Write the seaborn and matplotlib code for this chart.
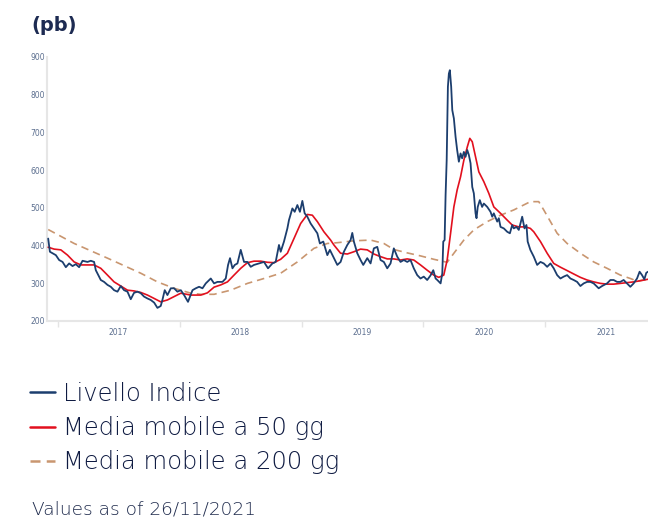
import numpy as np
import pandas as pd
import matplotlib
matplotlib.use("Agg")
import matplotlib.pyplot as plt
import matplotlib.dates as mdates
from matplotlib.lines import Line2D
import seaborn as sns

# ---- data (dates as decimal years, spreads in basis points) ----
index_t = [2016.918, 2016.932, 2016.981, 2017.008, 2017.036, 2017.063, 2017.090, 2017.118,
           2017.145, 2017.172, 2017.200, 2017.241, 2017.268, 2017.295, 2017.309, 2017.350,
           2017.377, 2017.405, 2017.432, 2017.459, 2017.487, 2017.514, 2017.541, 2017.569,
           2017.596, 2017.623, 2017.651, 2017.678, 2017.705, 2017.733, 2017.760, 2017.788,
           2017.815, 2017.842, 2017.856, 2017.875, 2017.897, 2017.925, 2017.952, 2017.979,
           2018.007, 2018.034, 2018.066, 2018.103, 2018.130, 2018.157, 2018.185, 2018.212,
           2018.253, 2018.280, 2018.308, 2018.349, 2018.376, 2018.395, 2018.411, 2018.431,
           2018.450, 2018.472, 2018.499, 2018.526, 2018.554, 2018.581, 2018.608, 2018.649,
           2018.690, 2018.723, 2018.759, 2018.786, 2018.813, 2018.827, 2018.854, 2018.882,
           2018.895, 2018.923, 2018.942, 2018.964, 2018.985, 2019.005, 2019.024, 2019.046,
           2019.073, 2019.100, 2019.128, 2019.149, 2019.177, 2019.210, 2019.231, 2019.264,
           2019.292, 2019.319, 2019.346, 2019.374, 2019.401, 2019.415, 2019.428, 2019.456,
           2019.483, 2019.505, 2019.538, 2019.565, 2019.592, 2019.620, 2019.647, 2019.674,
           2019.702, 2019.729, 2019.756, 2019.784, 2019.811, 2019.838, 2019.866, 2019.893,
           2019.920, 2019.948, 2019.975, 2020.002, 2020.030, 2020.057, 2020.080, 2020.099,
           2020.113, 2020.140, 2020.154, 2020.162, 2020.173, 2020.181, 2020.190, 2020.200,
           2020.208, 2020.216, 2020.227, 2020.236, 2020.249, 2020.263, 2020.276, 2020.290,
           2020.304, 2020.317, 2020.331, 2020.345, 2020.359, 2020.372, 2020.386, 2020.400,
           2020.413, 2020.427, 2020.435, 2020.445, 2020.462, 2020.481, 2020.495, 2020.523,
           2020.550, 2020.564, 2020.577, 2020.605, 2020.618, 2020.632, 2020.659, 2020.687,
           2020.709, 2020.728, 2020.741, 2020.763, 2020.782, 2020.810, 2020.829, 2020.845,
           2020.855, 2020.877, 2020.905, 2020.933, 2020.960, 2020.987, 2021.015, 2021.042,
           2021.069, 2021.097, 2021.124, 2021.151, 2021.179, 2021.206, 2021.233, 2021.261,
           2021.288, 2021.315, 2021.343, 2021.370, 2021.397, 2021.438, 2021.466, 2021.507,
           2021.534, 2021.561, 2021.589, 2021.616, 2021.643, 2021.671, 2021.698, 2021.725,
           2021.753, 2021.774, 2021.794, 2021.813, 2021.829, 2021.843]
index_v = [418, 383, 374, 361, 356, 342, 352, 345,
           350, 342, 359, 356, 359, 356, 334, 308,
           303, 295, 290, 281, 277, 292, 281, 277,
           257, 274, 277, 273, 264, 259, 255, 248,
           234, 239, 255, 281, 268, 286, 286, 277,
           281, 268, 250, 281, 286, 290, 286, 299,
           312, 299, 303, 303, 312, 348, 366, 339,
           348, 352, 388, 356, 356, 343, 348, 352,
           356, 339, 352, 356, 401, 383, 410, 445,
           467, 498, 489, 507, 489, 518, 485, 476,
           458, 445, 432, 405, 410, 374, 388, 366,
           348, 356, 383, 401, 414, 433, 410, 379,
           361, 348, 366, 352, 392, 396, 361, 356,
           339, 352, 392, 370, 356, 361, 356, 361,
           339, 321, 312, 317, 308, 320, 334, 312,
           308, 299, 326, 410, 414, 533, 626, 821,
           856, 865, 821, 759, 737, 688, 653, 622,
           644, 631, 648, 635, 653, 640, 618, 555,
           538, 485, 472, 502, 520, 502, 511, 502,
           489, 476, 485, 463, 472, 449, 445, 436,
           432, 454, 445, 449, 441, 476, 445, 454,
           410, 388, 370, 348, 356, 352, 343, 352,
           339, 321, 312, 317, 321, 312, 308, 303,
           292, 299, 303, 303, 299, 286, 292, 299,
           308, 308, 303, 303, 308, 299, 290, 299,
           312, 330, 321, 310, 327, 330]

ma50_t = [2016.918, 2016.967, 2017.022, 2017.077, 2017.131, 2017.186, 2017.241, 2017.295,
          2017.350, 2017.405, 2017.459, 2017.514, 2017.569, 2017.623, 2017.678, 2017.733,
          2017.788, 2017.842, 2017.897, 2017.952, 2018.007, 2018.089, 2018.171, 2018.226,
          2018.280, 2018.335, 2018.390, 2018.444, 2018.499, 2018.554, 2018.608, 2018.663,
          2018.718, 2018.772, 2018.827, 2018.882, 2018.936, 2018.991, 2019.046, 2019.087,
          2019.128, 2019.182, 2019.237, 2019.264, 2019.319, 2019.374, 2019.428, 2019.483,
          2019.538, 2019.592, 2019.647, 2019.702, 2019.756, 2019.811, 2019.866, 2019.920,
          2019.975, 2020.030, 2020.084, 2020.125, 2020.166, 2020.194, 2020.222, 2020.249,
          2020.276, 2020.304, 2020.331, 2020.359, 2020.380, 2020.400, 2020.427, 2020.454,
          2020.495, 2020.536, 2020.577, 2020.632, 2020.687, 2020.728, 2020.782, 2020.837,
          2020.877, 2020.905, 2020.960, 2021.015, 2021.069, 2021.124, 2021.179, 2021.233,
          2021.288, 2021.343, 2021.397, 2021.452, 2021.507, 2021.561, 2021.616, 2021.671,
          2021.725, 2021.780, 2021.843]
ma50_v = [395, 390, 388, 374, 356, 348, 348, 348,
          339, 321, 303, 292, 281, 279, 275, 268,
          259, 250, 255, 264, 273, 268, 268, 274,
          289, 295, 303, 321, 339, 354, 358, 358,
          355, 354, 363, 379, 418, 458, 482, 480,
          463, 436, 414, 401, 379, 377, 383, 390,
          388, 377, 370, 364, 364, 361, 364, 361,
          348, 334, 321, 315, 321, 361, 432, 502,
          547, 582, 626, 661, 684, 675, 635, 595,
          569, 538, 502, 485, 467, 454, 449, 449,
          445, 436, 410, 379, 352, 342, 333, 324,
          315, 308, 303, 299, 297, 297, 299, 301,
          303, 306, 310]

ma200_t = [2016.918, 2017.131, 2017.405, 2017.678, 2017.815, 2017.952, 2018.089, 2018.171,
           2018.280, 2018.417, 2018.554, 2018.690, 2018.827, 2018.964, 2019.100, 2019.210,
           2019.292, 2019.428, 2019.565, 2019.674, 2019.756, 2019.866, 2019.975, 2020.084,
           2020.194, 2020.249, 2020.331, 2020.413, 2020.523, 2020.632, 2020.741, 2020.877,
           2020.946, 2020.987, 2021.042, 2021.097, 2021.179, 2021.288, 2021.397, 2021.507,
           2021.616, 2021.698, 2021.753, 2021.843]
ma200_v = [442, 405, 366, 326, 303, 286, 273, 270,
           270, 281, 299, 312, 326, 356, 392, 405,
           407, 412, 414, 405, 389, 380, 372, 363,
           355, 379, 414, 441, 463, 480, 494, 516,
           516, 494, 463, 432, 405, 379, 356, 339,
           321, 312, 305, 310]

series_labels = ["Livello Indice", "Media mobile a 50 gg", "Media mobile a 200 gg"]
series_colors = ["#1c3e6e", "#e2101e", "#c99670"]
y_ticks = [200, 300, 400, 500, 600, 700, 800, 900]
unit_label = "(pb)"
footnote = "Values as of 26/11/2021"


def to_dates(years):
    years = np.asarray(years, dtype=float)
    base = pd.Timestamp("2017-01-01")
    return base + pd.to_timedelta((years - 2017.0) * 365.25, unit="D")


sns.set_theme(style="white")
plt.rcParams["font.family"] = ["DejaVu Sans"]

fig = plt.figure(figsize=(6.48, 5.2), dpi=100)
ax = fig.add_axes([0.0733, 0.3833, 0.9267, 0.5071])

df_idx = pd.DataFrame({"date": to_dates(index_t), "value": index_v})
df_50 = pd.DataFrame({"date": to_dates(ma50_t), "value": ma50_v})
df_200 = pd.DataFrame({"date": to_dates(ma200_t), "value": ma200_v})

sns.lineplot(data=df_200, x="date", y="value", ax=ax, color=series_colors[2],
             linewidth=1.2, zorder=2)
ax.lines[-1].set_dashes([4.5, 3])
sns.lineplot(data=df_50, x="date", y="value", ax=ax, color=series_colors[1],
             linewidth=1.2, zorder=3)
sns.lineplot(data=df_idx, x="date", y="value", ax=ax, color=series_colors[0],
             linewidth=1.3, zorder=4)

ax.set_xlim(pd.Timestamp("2016-11-30"), to_dates([2021.843])[0])
ax.set_ylim(200, 900)
ax.set_yticks(y_ticks)
ax.set_xlabel("")
ax.set_ylabel("")

# year boundaries as ticks, year labels centred mid-year
ax.xaxis.set_major_locator(mdates.YearLocator())
ax.xaxis.set_major_formatter(plt.NullFormatter())
ax.xaxis.set_minor_locator(mdates.MonthLocator(bymonth=7, bymonthday=1))
ax.xaxis.set_minor_formatter(mdates.DateFormatter("%Y"))
ax.tick_params(axis="x", which="major", length=4, width=1, color="#e4e4e4", bottom=True)
ax.tick_params(axis="x", which="minor", length=0, pad=5, labelsize=5.5,
               labelcolor="#5c6f8f")
ax.tick_params(axis="y", length=0, pad=1.5, labelsize=5.5, labelcolor="#5c6f8f")

for side in ["top", "right"]:
    ax.spines[side].set_visible(False)
for side in ["left", "bottom"]:
    ax.spines[side].set_color("#e6e6e6")
    ax.spines[side].set_linewidth(1.5)
ax.grid(False)

fig.text(0.049, 1 - 25.5 / 520, unit_label, fontsize=14, fontweight="bold",
         color="#1d2b52", va="center", ha="left")

handles = [
    Line2D([], [], color=series_colors[0], linewidth=1.8),
    Line2D([], [], color=series_colors[1], linewidth=1.8),
    Line2D([], [], color=series_colors[2], linewidth=1.8, dashes=[4, 2.5]),
]
fig.legend(handles, series_labels, loc="upper left",
           bbox_to_anchor=(0.047, 1 - 382 / 520), frameon=False,
           prop={"size": 17.5, "weight": "light"}, labelcolor="#0f1b42",
           handlelength=1.0, handletextpad=0.33, labelspacing=0.42,
           borderaxespad=0, borderpad=0)

fig.text(0.049, 1 - 510 / 520, footnote, fontsize=13.3, fontweight="light",
         color="#1e2a4c", va="center", ha="left")

fig.savefig("out.png", dpi=100)
